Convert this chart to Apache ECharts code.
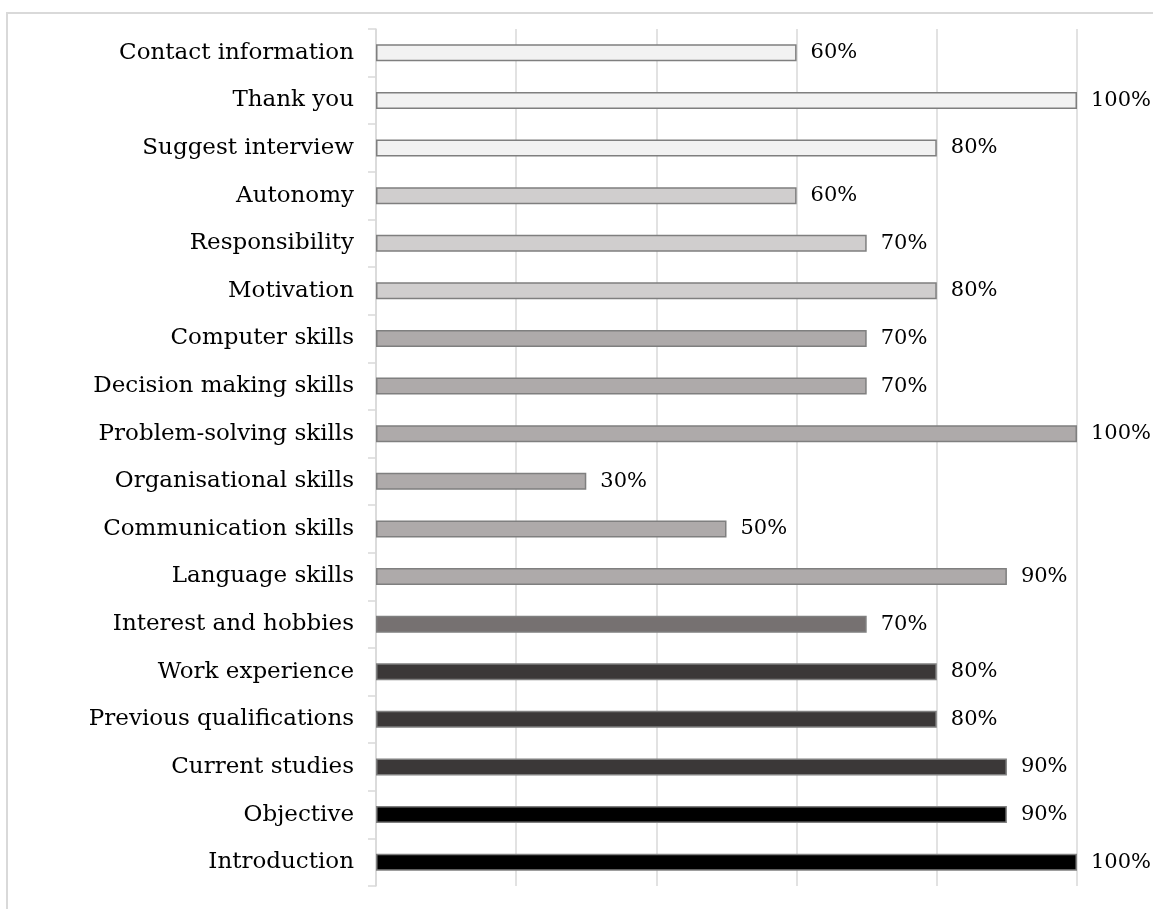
<!DOCTYPE html>
<html>
<head>
<meta charset="utf-8">
<script src="https://cdn.jsdelivr.net/npm/echarts@6/dist/echarts.min.js"></script>
<style>
  html, body { margin: 0; padding: 0; background: #ffffff; }
  #chart { width: 1153px; height: 909px; }
</style>
</head>
<body>
<div id="chart"></div>
<script>
// Categories listed bottom to top (category axis runs upward)
const categories = [
  'Introduction', 'Objective', 'Current studies', 'Previous qualifications',
  'Work experience', 'Interest and hobbies', 'Language skills',
  'Communication skills', 'Organisational skills', 'Problem-solving skills',
  'Decision making skills', 'Computer skills', 'Motivation', 'Responsibility',
  'Autonomy', 'Suggest interview', 'Thank you', 'Contact information'
];
// Share of items covered, in percent
const values = [100, 90, 90, 80, 80, 70, 90, 50, 30, 100, 70, 70, 80, 70, 60, 80, 100, 60];
// Fill shade for each section of the letter
const fills = [
  '#000000', '#000000',
  '#3b3838', '#3b3838', '#3b3838',
  '#767171',
  '#aeaaaa', '#aeaaaa', '#aeaaaa', '#aeaaaa', '#aeaaaa', '#aeaaaa',
  '#d0cece', '#d0cece', '#d0cece',
  '#f2f2f2', '#f2f2f2', '#f2f2f2'
];

const fontFamily = "Georgia, 'DejaVu Serif', serif";
const chart = echarts.init(document.getElementById('chart'), null, { renderer: 'canvas' });

chart.setOption({
  animation: false,
  backgroundColor: '#ffffff',
  graphic: [{
    type: 'rect',
    shape: { x: 7, y: 13, width: 1300, height: 1000 },
    style: { fill: 'none', stroke: '#d9d9d9', lineWidth: 2 },
    silent: true
  }],
  grid: { left: 376, right: 76, top: 29, bottom: 23, containLabel: false },
  xAxis: {
    type: 'value',
    min: 0, max: 100, interval: 20,
    axisLabel: { show: false },
    axisLine: { show: false },
    axisTick: { show: false },
    splitLine: { show: true, lineStyle: { color: '#d9d9d9', width: 1.5 } }
  },
  yAxis: {
    type: 'category',
    data: categories,
    axisLine: { show: true, lineStyle: { color: '#d9d9d9', width: 1.5 } },
    axisTick: { show: true, length: 8, lineStyle: { color: '#d9d9d9', width: 1.5 } },
    axisLabel: { margin: 22, color: '#000000', fontSize: 23, fontFamily: fontFamily }
  },
  series: [{
    type: 'bar',
    barWidth: 17,
    data: values.map((v, i) => ({
      value: v,
      itemStyle: { color: fills[i], borderColor: '#7f7f7f', borderWidth: 1.5 }
    })),
    label: {
      show: true,
      position: 'right',
      distance: 14,
      formatter: p => p.value + '%',
      color: '#000000',
      fontSize: 21,
      fontFamily: fontFamily
    }
  }]
});
</script>
</body>
</html>
